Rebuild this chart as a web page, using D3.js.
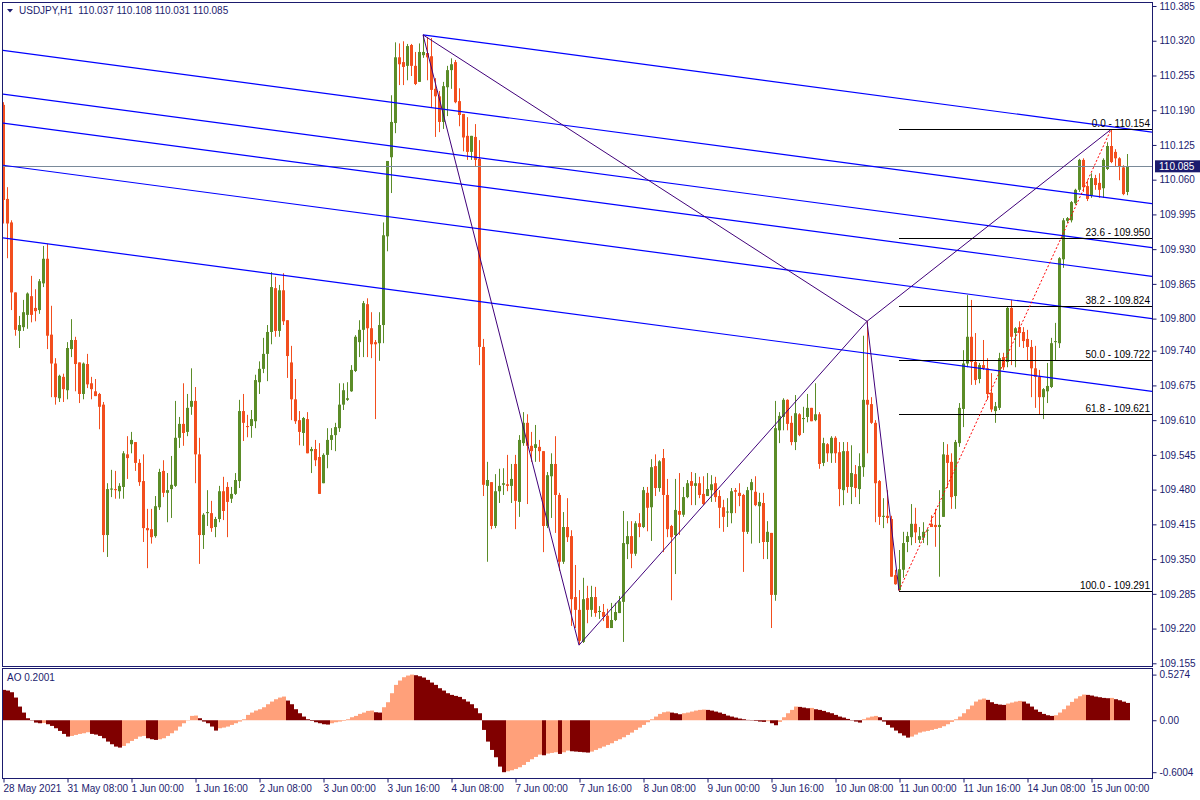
<!DOCTYPE html>
<html><head><meta charset="utf-8">
<script src="https://cdn.jsdelivr.net/npm/d3@7"></script>
<style>
html,body{margin:0;padding:0;background:#fff;}
svg{display:block;font-family:"Liberation Sans",Arial,sans-serif;}
</style></head><body>
<svg id="c" width="1200" height="800"></svg>
<script>
const symbolTitle = "USDJPY,H1";
const headerValues = ["110.037", "110.108", "110.031", "110.085"];
const aoTitle = "AO 0.2001";

const opens = [
110.200,110.024,109.980,109.849,109.777,109.784,109.807,109.842,109.820,109.816,
109.866,109.912,109.770,109.716,109.651,109.691,109.666,109.743,109.760,109.718,
109.659,109.715,109.679,109.664,109.659,109.639,109.395,109.480,109.481,109.477,
109.485,109.546,109.565,109.569,109.530,109.496,109.408,109.406,109.393,109.447,
109.515,109.474,109.481,109.487,109.577,109.603,109.588,109.635,109.646,109.546,
109.395,109.436,109.436,109.410,109.425,109.477,109.485,109.463,109.472,109.496,
109.627,109.599,109.599,109.608,109.681,109.706,109.734,109.775,109.857,109.777,
109.853,109.797,109.718,109.649,109.610,109.586,109.612,109.552,109.556,109.541,
109.492,109.545,109.573,109.582,109.595,109.639,109.648,109.664,109.702,109.756,
109.779,109.827,109.782,109.756,109.754,109.788,109.954,110.102,110.166,110.289,
110.280,110.273,110.312,110.273,110.243,110.293,110.297,110.291,110.230,110.216,
110.168,110.233,110.265,110.280,110.207,110.183,110.142,110.112,110.140,110.099,
109.747,109.487,109.494,109.412,109.477,109.489,109.490,109.487,109.528,109.457,
109.567,109.605,109.562,109.558,109.560,109.552,109.412,109.505,109.528,109.470,
109.345,109.410,109.393,109.279,109.255,109.195,109.277,109.255,109.279,109.251,
109.251,109.244,109.221,109.236,109.249,109.270,109.378,109.393,109.360,109.417,
109.410,109.474,109.447,109.524,109.483,109.539,109.470,109.412,109.395,109.440,
109.433,109.466,109.496,109.487,109.492,109.472,109.468,109.479,109.492,109.468,
109.447,109.438,109.436,109.479,109.474,109.470,109.401,109.479,109.476,109.449,
109.455,109.382,109.399,109.283,109.591,109.616,109.648,109.605,109.569,109.621,
109.612,109.616,109.633,109.610,109.621,109.530,109.565,109.548,109.577,109.550,
109.479,109.552,109.485,109.509,109.481,109.522,109.648,109.640,109.605,109.496,
109.429,109.431,109.425,109.320,109.292,109.330,109.382,109.391,109.416,109.386,
109.390,109.404,109.416,109.414,109.410,109.429,109.545,109.532,109.468,109.567,
109.631,109.716,109.766,109.719,109.687,109.713,109.707,109.661,109.627,109.633,
109.728,109.719,109.820,109.773,109.784,109.775,109.762,109.747,109.707,109.691,
109.653,109.664,109.672,109.756,109.754,109.911,109.983,109.984,110.016,110.041,
110.097,110.048,110.031,110.063,110.054,110.044,110.080,110.123,110.112,110.100,
110.083,110.037];

const highs = [
110.205,110.046,109.984,109.849,109.805,109.835,109.849,109.880,109.855,109.874,
109.936,109.940,109.824,109.726,109.695,109.697,109.756,109.799,109.766,109.718,
109.718,109.734,109.691,109.687,109.661,109.644,109.492,109.517,109.515,109.492,
109.552,109.580,109.588,109.569,109.537,109.546,109.444,109.444,109.468,109.519,
109.535,109.511,109.543,109.646,109.616,109.679,109.659,109.707,109.672,109.577,
109.436,109.479,109.459,109.429,109.487,109.504,109.494,109.485,109.511,109.648,
109.659,109.620,109.629,109.695,109.720,109.764,109.788,109.887,109.878,109.863,
109.885,109.797,109.749,109.687,109.627,109.616,109.625,109.560,109.573,109.567,
109.548,109.595,109.595,109.605,109.679,109.679,109.681,109.713,109.769,109.797,
109.833,109.838,109.812,109.760,109.812,109.980,110.095,110.218,110.317,110.315,
110.319,110.314,110.314,110.299,110.315,110.331,110.327,110.325,110.250,110.226,
110.243,110.273,110.287,110.284,110.231,110.183,110.177,110.142,110.164,110.134,
109.762,109.532,109.494,109.509,109.519,109.520,109.545,109.528,109.545,109.582,
109.625,109.621,109.588,109.601,109.573,109.552,109.513,109.548,109.580,109.474,
109.438,109.464,109.404,109.339,109.292,109.315,109.300,109.300,109.298,109.262,
109.266,109.257,109.268,109.268,109.281,109.440,109.421,109.421,109.421,109.436,
109.485,109.485,109.537,109.546,109.535,109.556,109.500,109.414,109.500,109.511,
109.485,109.498,109.513,109.511,109.504,109.505,109.511,109.507,109.504,109.479,
109.461,109.464,109.483,109.483,109.492,109.472,109.485,109.500,109.505,109.474,
109.474,109.421,109.399,109.646,109.625,109.651,109.649,109.618,109.657,109.623,
109.635,109.659,109.633,109.679,109.625,109.577,109.567,109.580,109.580,109.569,
109.569,109.569,109.563,109.526,109.548,109.768,109.795,109.653,109.610,109.498,
109.464,109.479,109.431,109.330,109.367,109.401,109.401,109.453,109.446,109.410,
109.419,109.406,109.432,109.444,109.479,109.569,109.565,109.548,109.573,109.642,
109.741,109.844,109.835,109.773,109.717,109.760,109.726,109.698,109.644,109.736,
109.736,109.822,109.835,109.784,109.795,109.784,109.779,109.760,109.749,109.704,
109.670,109.717,109.764,109.792,109.915,109.988,109.990,110.020,110.043,110.099,
110.100,110.059,110.072,110.069,110.072,110.100,110.130,110.154,110.117,110.102,
110.087,110.108];

const lows = [
109.978,109.913,109.816,109.768,109.745,109.777,109.781,109.793,109.795,109.809,
109.859,109.743,109.653,109.639,109.644,109.644,109.649,109.728,109.664,109.642,
109.649,109.670,109.649,109.655,109.593,109.363,109.354,109.466,109.463,109.463,
109.463,109.500,109.548,109.515,109.487,109.382,109.333,109.379,109.390,109.442,
109.466,109.419,109.427,109.485,109.558,109.562,109.580,109.620,109.492,109.341,
109.369,109.412,109.401,109.391,109.419,109.423,109.391,109.455,109.470,109.483,
109.571,109.578,109.577,109.595,109.659,109.698,109.683,109.752,109.766,109.766,
109.788,109.689,109.610,109.603,109.563,109.562,109.548,109.511,109.524,109.472,
109.492,109.520,109.554,109.552,109.588,109.629,109.646,109.663,109.700,109.728,
109.728,109.728,109.726,109.612,109.721,109.754,109.926,110.035,110.147,110.237,
110.237,110.246,110.254,110.237,110.243,110.288,110.246,110.196,110.140,110.149,
110.155,110.179,110.230,110.203,110.160,110.113,110.097,110.097,110.084,109.713,
109.468,109.345,109.406,109.408,109.455,109.470,109.477,109.455,109.406,109.429,
109.562,109.453,109.532,109.532,109.532,109.363,109.408,109.427,109.399,109.328,
109.341,109.382,109.225,109.221,109.189,109.193,109.230,109.242,109.242,109.238,
109.234,109.221,109.221,109.234,109.249,109.195,109.350,109.333,109.356,109.391,
109.408,109.402,109.384,109.468,109.476,109.363,109.391,109.273,109.322,109.395,
109.429,109.464,109.451,109.451,109.464,109.451,109.468,109.457,109.457,109.408,
109.401,109.410,109.417,109.436,109.449,109.326,109.397,109.379,109.449,109.380,
109.350,109.350,109.221,109.272,109.567,109.591,109.591,109.563,109.554,109.580,
109.586,109.606,109.608,109.608,109.519,109.524,109.532,109.530,109.530,109.449,
109.451,109.474,109.453,109.466,109.453,109.504,109.548,109.603,109.419,109.414,
109.408,109.417,109.317,109.302,109.291,109.315,109.363,109.376,109.380,109.380,
109.380,109.376,109.410,109.373,109.317,109.429,109.483,109.444,109.444,109.560,
109.597,109.709,109.676,109.676,109.679,109.704,109.648,109.625,109.605,109.629,
109.704,109.709,109.713,109.709,109.747,109.745,109.722,109.653,109.633,109.620,
109.612,109.642,109.670,109.722,109.745,109.895,109.979,109.980,110.013,110.037,
110.037,110.020,110.026,110.041,110.026,110.026,110.078,110.091,110.085,110.059,
110.031,110.031];

const closes = [
110.022,109.978,109.849,109.779,109.788,109.812,109.847,109.807,109.814,109.870,
109.912,109.768,109.716,109.653,109.693,109.668,109.745,109.760,109.715,109.659,
109.716,109.677,109.668,109.655,109.635,109.395,109.481,109.482,109.479,109.487,
109.548,109.539,109.573,109.530,109.494,109.408,109.404,109.391,109.449,109.513,
109.474,109.479,109.489,109.577,109.603,109.586,109.633,109.646,109.546,109.395,
109.433,109.438,109.408,109.425,109.477,109.440,109.457,109.472,109.498,109.627,
109.605,109.597,109.612,109.685,109.706,109.734,109.775,109.859,109.777,109.853,
109.795,109.730,109.649,109.608,109.588,109.614,109.548,109.556,109.535,109.472,
109.545,109.573,109.582,109.597,109.639,109.666,109.651,109.704,109.766,109.779,
109.829,109.782,109.752,109.752,109.788,109.956,110.095,110.168,110.289,110.276,
110.271,110.310,110.273,110.239,110.299,110.299,110.289,110.228,110.216,110.168,
110.235,110.265,110.276,110.205,110.181,110.139,110.112,110.142,110.097,109.747,
109.489,109.498,109.412,109.477,109.487,109.492,109.487,109.500,109.459,109.573,
109.605,109.562,109.552,109.565,109.552,109.412,109.507,109.528,109.470,109.345,
109.410,109.391,109.275,109.255,109.197,109.275,109.255,109.279,109.249,109.253,
109.242,109.221,109.236,109.251,109.271,109.380,109.393,109.360,109.417,109.410,
109.479,109.446,109.522,109.483,109.533,109.470,109.406,109.391,109.442,109.433,
109.466,109.492,109.487,109.492,109.470,109.453,109.481,109.490,109.466,109.446,
109.429,109.439,109.477,109.476,109.468,109.401,109.479,109.494,109.451,109.457,
109.382,109.401,109.283,109.595,109.618,109.648,109.603,109.569,109.623,109.582,
109.614,109.633,109.608,109.621,109.528,109.567,109.548,109.577,109.548,109.481,
109.552,109.485,109.511,109.483,109.524,109.648,109.639,109.605,109.492,109.429,
109.431,109.427,109.317,109.303,109.331,109.380,109.393,109.416,109.400,109.393,
109.401,109.405,109.410,109.410,109.414,109.546,109.530,109.466,109.569,109.633,
109.716,109.766,109.719,109.685,109.713,109.707,109.659,109.630,109.636,109.726,
109.709,109.820,109.766,109.782,109.773,109.758,109.747,109.707,109.691,109.653,
109.668,109.674,109.754,109.758,109.913,109.984,109.988,110.018,110.041,110.097,
110.046,110.024,110.063,110.050,110.041,110.097,110.123,110.093,110.100,110.085,
110.033,110.085];

const aoValues = [
0.3507,0.3430,0.3237,0.2621,0.1580,0.0886,0.0231,-0.0039,-0.0270,-0.0347,
-0.0308,-0.0462,-0.0655,-0.0925,-0.1233,-0.1580,-0.1888,-0.1811,-0.1696,-0.1580,
-0.1503,-0.1387,-0.1580,-0.1657,-0.1811,-0.2081,-0.2467,-0.2775,-0.3045,-0.3160,
-0.2968,-0.2659,-0.2389,-0.2158,-0.1888,-0.1811,-0.2081,-0.2197,-0.2274,-0.2197,
-0.2081,-0.1811,-0.1503,-0.1195,-0.0732,-0.0347,-0.0039,0.0501,0.0540,0.0231,
-0.0154,-0.0347,-0.0732,-0.1195,-0.0925,-0.0848,-0.0732,-0.0540,-0.0347,-0.0154,
0.0116,0.0617,0.0886,0.1118,0.1272,0.1503,0.1850,0.2158,0.2428,0.2621,
0.2736,0.2274,0.1850,0.1272,0.0809,0.0424,0.0116,-0.0077,-0.0231,-0.0347,
-0.0462,-0.0501,-0.0347,-0.0231,-0.0154,-0.0077,0.0116,0.0347,0.0501,0.0732,
0.0886,0.1079,0.1118,0.0925,0.0886,0.1503,0.2081,0.3122,0.4085,0.4586,
0.4972,0.5164,0.5274,0.5203,0.5087,0.4933,0.4663,0.4355,0.4085,0.3700,
0.3430,0.3122,0.2929,0.2813,0.2698,0.2428,0.2158,0.1850,0.1387,0.0809,
-0.1118,-0.2467,-0.3430,-0.4278,-0.5357,-0.6004,-0.5897,-0.5781,-0.5627,-0.5434,
-0.5164,-0.4818,-0.4509,-0.4239,-0.3970,-0.4047,-0.3854,-0.3777,-0.3700,-0.3893,
-0.3700,-0.3507,-0.3584,-0.3623,-0.3661,-0.3700,-0.3738,-0.3623,-0.3430,-0.3237,
-0.3045,-0.2852,-0.2659,-0.2389,-0.2197,-0.1966,-0.1696,-0.1426,-0.1118,-0.0848,
-0.0540,-0.0231,0.0116,0.0424,0.0732,0.0925,0.1002,0.0886,0.0809,0.0694,
0.0809,0.0886,0.1002,0.1118,0.1195,0.1233,0.1195,0.1118,0.1002,0.0886,
0.0732,0.0540,0.0424,0.0308,0.0193,0.0116,0.0039,-0.0039,-0.0077,-0.0154,
-0.0193,-0.0116,-0.0347,-0.0578,-0.0193,0.0347,0.0809,0.1195,0.1580,0.1542,
0.1465,0.1387,0.1426,0.1272,0.1195,0.1079,0.0925,0.0809,0.0617,0.0424,
0.0308,0.0154,-0.0039,-0.0154,-0.0270,0.0116,0.0308,0.0424,0.0501,0.0347,
-0.0154,-0.0540,-0.0848,-0.1195,-0.1503,-0.1773,-0.2004,-0.1888,-0.1657,-0.1426,
-0.1310,-0.1233,-0.1118,-0.1002,-0.0886,-0.0694,-0.0462,-0.0193,0.0116,0.0424,
0.0809,0.1272,0.1696,0.2158,0.2389,0.2505,0.2351,0.2081,0.1888,0.1811,
0.1773,0.1927,0.2043,0.2158,0.2235,0.2158,0.1927,0.1580,0.1233,0.0964,
0.0732,0.0578,0.0501,0.0578,0.0886,0.1272,0.1696,0.2120,0.2505,0.2775,
0.2968,0.2929,0.2852,0.2736,0.2659,0.2582,0.2544,0.2582,0.2430,0.2310,
0.2150,0.2001];

const timeLabels = ["28 May 2021","31 May 08:00","1 Jun 00:00","1 Jun 16:00","2 Jun 08:00","3 Jun 00:00",
  "3 Jun 16:00","4 Jun 08:00","7 Jun 00:00","7 Jun 16:00","8 Jun 08:00","9 Jun 00:00","9 Jun 16:00",
  "10 Jun 08:00","11 Jun 00:00","11 Jun 16:00","14 Jun 08:00","15 Jun 00:00"];
const timeLabelBars = [0,16,32,48,64,80,96,112,128,144,160,176,192,208,224,240,256,272];

const priceTicks = [110.385,110.320,110.255,110.190,110.125,110.060,109.995,109.930,109.865,109.800,
  109.740,109.675,109.610,109.545,109.480,109.415,109.350,109.285,109.220,109.155];
const aoTicks = [0.5274, 0.0, -0.6004];
const aoTickLabels = ["0.5274", "0.00", "-0.6004"];
const lastPrice = 110.085;

const fibRatios = [0.0, 23.6, 38.2, 50.0, 61.8, 100.0];
const fibPrices = [110.154, 109.950, 109.824, 109.722, 109.621, 109.291];
const fibStartBar = 224;

// parallel channel lines: start (bar, price) -> end (bar, price)
const channelStartBars = [105, 0, 0, 0, 0, 0];
const channelStartPrices = [110.331, 110.302, 110.220, 110.166, 110.087, 109.951];
const channelEndBars = [287.25, 287.25, 287.25, 287.25, 287.25, 287.25];
const channelEndPrices = [110.149, 110.015, 109.933, 109.879, 109.800, 109.664];

// pattern (zig-zag) lines
const patternFromBars = [105, 105, 144, 216, 216];
const patternFromPrices = [110.331, 110.331, 109.189, 109.795, 109.795];
const patternToBars = [144, 216, 216, 224, 277];
const patternToPrices = [109.189, 109.795, 109.795, 109.291, 110.154];

// fibo trend line
const fiboLineBars = [224, 277];
const fiboLinePrices = [109.291, 110.154];

const svg = d3.select("#c");
const navy = "#1b1b6e";
const bull = "#5b8c28", bear = "#f24e1e";

const x = d3.scaleLinear().domain([0, 281]).range([3, 1127]);
const y = d3.scaleLinear().domain([109.155, 110.385]).range([663.3, 6]);
const yAO = d3.scaleLinear().domain([-0.6004, 0.5274]).range([772.2, 674.6]);

const plotL = 2.5, plotR = 1152.5, mainT = 2.5, mainB = 666.5, aoT = 668.5, aoB = 778.5;

const defs = svg.append("defs");
defs.append("clipPath").attr("id","clipMain").append("rect")
  .attr("x",3).attr("y",3).attr("width",1149).attr("height",663);
defs.append("clipPath").attr("id","clipAO").append("rect")
  .attr("x",3).attr("y",669).attr("width",1149).attr("height",109);

svg.append("rect").attr("width",1200).attr("height",800).attr("fill","#fff");

const main = svg.append("g").attr("clip-path","url(#clipMain)");

// candles
const idx = d3.range(opens.length);
const cg = main.append("g");
cg.selectAll("line.wick").data(idx).join("line")
  .attr("x1", i => x(i) + 0.5).attr("x2", i => x(i) + 0.5)
  .attr("y1", i => y(highs[i])).attr("y2", i => y(lows[i]))
  .attr("stroke", i => closes[i] >= opens[i] ? bull : bear).attr("stroke-width", 1);
cg.selectAll("rect.body").data(idx).join("rect")
  .attr("x", i => x(i) - 1).attr("width", 3)
  .attr("y", i => Math.min(y(opens[i]), y(closes[i])))
  .attr("height", i => Math.max(1, Math.abs(y(opens[i]) - y(closes[i]))))
  .attr("fill", i => closes[i] >= opens[i] ? bull : bear);

// current price line
main.append("line").attr("x1",3).attr("x2",1152)
  .attr("y1", Math.round(y(lastPrice)) + 0.5).attr("y2", Math.round(y(lastPrice)) + 0.5)
  .attr("stroke","#7a8a99").attr("stroke-width",1);

// channel lines
main.selectAll("line.ch").data(channelStartBars.map((b,i)=>i)).join("line")
  .attr("x1", i => x(channelStartBars[i])).attr("y1", i => y(channelStartPrices[i]))
  .attr("x2", i => x(channelEndBars[i])).attr("y2", i => y(channelEndPrices[i]))
  .attr("stroke","#0000ff").attr("stroke-width",1.2);

// pattern lines
main.selectAll("line.pt").data(patternFromBars.map((b,i)=>i)).join("line")
  .attr("x1", i => x(patternFromBars[i])).attr("y1", i => y(patternFromPrices[i]))
  .attr("x2", i => x(patternToBars[i])).attr("y2", i => y(patternToPrices[i]))
  .attr("stroke","#40007a").attr("stroke-width",1);

// fib levels
const fg = main.append("g");
fg.selectAll("line").data(fibPrices).join("line")
  .attr("x1", x(fibStartBar)).attr("x2", 1152)
  .attr("y1", d => Math.round(y(d)) + 0.5).attr("y2", d => Math.round(y(d)) + 0.5)
  .attr("stroke","#000").attr("stroke-width",1);
fg.selectAll("text").data(fibPrices).join("text")
  .attr("x", 1150).attr("y", d => Math.round(y(d)) - 2)
  .attr("text-anchor","end").attr("font-size",10).attr("fill","#000")
  .text((d,i) => fibRatios[i].toFixed(1) + " - " + d.toFixed(3));

// fibo trend line (red dotted)
main.append("line")
  .attr("x1", x(fiboLineBars[0])).attr("y1", y(fiboLinePrices[0]))
  .attr("x2", x(fiboLineBars[1])).attr("y2", y(fiboLinePrices[1]))
  .attr("stroke","#ff0000").attr("stroke-width",1).attr("stroke-dasharray","2,2");

// AO histogram
const ag = svg.append("g").attr("clip-path","url(#clipAO)");
ag.selectAll("rect").data(idx).join("rect")
  .attr("x", i => x(i) - 1).attr("width", 4)
  .attr("y", i => Math.min(yAO(aoValues[i]), yAO(0)))
  .attr("height", i => Math.abs(yAO(aoValues[i]) - yAO(0)))
  .attr("fill", i => (i > 0 && aoValues[i] >= aoValues[i-1]) ? "#ffa07a" : "#800000");

// frames
svg.append("rect").attr("x",plotL).attr("y",mainT).attr("width",plotR-plotL).attr("height",mainB-mainT)
  .attr("fill","none").attr("stroke",navy).attr("stroke-width",1);
svg.append("rect").attr("x",plotL).attr("y",aoT).attr("width",plotR-plotL).attr("height",aoB-aoT)
  .attr("fill","none").attr("stroke",navy).attr("stroke-width",1);

// price axis
const yAxis = svg.append("g").attr("transform", `translate(${plotR},0)`)
  .call(d3.axisRight(y).tickValues(priceTicks).tickSize(4).tickFormat(d3.format(".3f")));
yAxis.select(".domain").remove();
yAxis.selectAll("line").attr("stroke", navy);
yAxis.selectAll("text").attr("fill", navy).attr("font-size",10)
  .attr("font-family","Liberation Sans, Arial, sans-serif").attr("x",7);

// current price box
svg.append("rect").attr("x",1155).attr("y", y(lastPrice) - 6).attr("width",45).attr("height",12).attr("fill",navy);
svg.append("text").attr("x",1159).attr("y", y(lastPrice) + 4).attr("fill","#fff").attr("font-size",10)
  .text(lastPrice.toFixed(3));

// AO axis
const aoAxis = svg.append("g").attr("transform", `translate(${plotR},0)`)
  .call(d3.axisRight(yAO).tickValues(aoTicks).tickSize(4).tickFormat((d,i) => aoTickLabels[i]));
aoAxis.select(".domain").remove();
aoAxis.selectAll("line").attr("stroke", navy);
aoAxis.selectAll("text").attr("fill", navy).attr("font-size",10)
  .attr("font-family","Liberation Sans, Arial, sans-serif").attr("x",7);

// time axis
const xAxis = svg.append("g").attr("transform", `translate(0,${aoB})`)
  .call(d3.axisBottom(x).tickValues(timeLabelBars).tickSize(4).tickFormat((d,i) => timeLabels[i]));
xAxis.select(".domain").remove();
xAxis.selectAll("line").attr("stroke", navy).attr("transform","translate(0.5,0)");
xAxis.selectAll("text").attr("fill", navy).attr("font-size",10)
  .attr("font-family","Liberation Sans, Arial, sans-serif")
  .attr("text-anchor","start").attr("dy",0).attr("y",13).attr("x",0);

// header
svg.append("path").attr("d","M7,9 L13,9 L10,12.5 Z").attr("fill",navy);
svg.append("text").attr("x",19).attr("y",14).attr("fill",navy).attr("font-size",10)
  .attr("xml:space","preserve").style("white-space","pre")
  .text(symbolTitle + "  " + headerValues.join(" "));
svg.append("text").attr("x",7).attr("y",681).attr("fill",navy).attr("font-size",10).text(aoTitle);
</script>
</body></html>
